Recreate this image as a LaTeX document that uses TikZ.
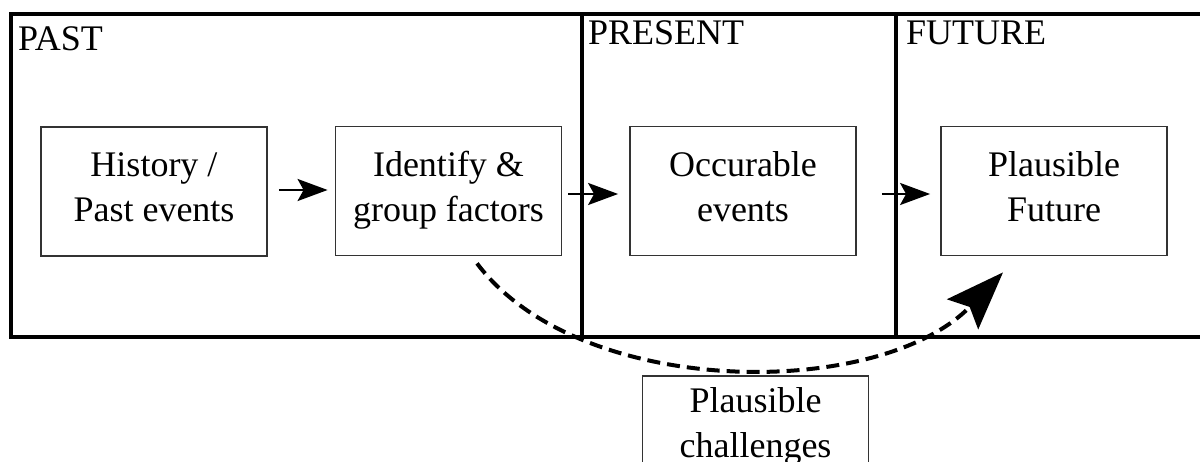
\documentclass[tikz,border=0pt]{standalone}
\usepackage{fontspec}
\setmainfont{Liberation Serif}
\usetikzlibrary{arrows.meta}
\begin{document}
\begin{tikzpicture}[x=1pt,y=-1pt,
  frame/.style={line width=3.5pt,black},
  stagebox/.style={draw=black!80, line width=1.8pt, minimum width=226pt, minimum height=129pt,
    align=center, text height=70pt, text depth=9pt, inner sep=0pt, font=\fontsize{36}{45}\selectfont},
  stagelabel/.style={anchor=base west, inner sep=0pt, font=\fontsize{36}{45}\selectfont},
  flowarrow/.style={line width=2.5pt, -{Stealth[length=30pt,width=22pt,inset=6pt]}},
  dasharrow/.style={line width=4pt, dash pattern=on 13pt off 7pt,
    -{Stealth[length=58pt,width=43pt,inset=10pt]}}
]
\useasboundingbox (0,0) rectangle (1200,462);
% frame
\draw[frame] (1210,14) -- (11,14) -- (11,337) -- (1210,337);
\draw[frame] (582,14) -- (582,337);
\draw[frame] (896,14) -- (896,337);
% stage labels
\node[stagelabel] (past) at (18,51) {PAST};
\node[stagelabel] (present) at (588,45) {PRESENT};
\node[stagelabel] (future) at (906,45) {FUTURE};
% boxes
\node[stagebox] (hist) at (154,191.5) {History /\\Past events};
\node[stagebox] (ident) at (448.5,191) {Identify \&\\group factors};
\node[stagebox] (occ) at (743,191) {Occurable\\events};
\node[stagebox] (fut) at (1054,191) {Plausible\\Future};
\node[stagebox, minimum height=101pt] (chal) at (755.5,426.5) {Plausible\\challenges};
% arrows
\draw[flowarrow] ([xshift=11pt,yshift=1.5pt]hist.east) -- ([xshift=-7pt,yshift=1pt]ident.west);
\draw[flowarrow] ([xshift=6pt,yshift=-3pt]ident.east) -- ([xshift=-11pt,yshift=-3pt]occ.west);
\draw[flowarrow] ([xshift=25pt,yshift=-3pt]occ.east) -- ([xshift=-10pt,yshift=-3pt]fut.west);
\coordinate (curvestart) at ([xshift=28.5pt,yshift=-7pt]ident.south);
\coordinate (curveend) at ([xshift=-51pt,yshift=-16pt]fut.south);
\draw[dasharrow] (curvestart) .. controls (580,400) and (880,400) .. (curveend);
\end{tikzpicture}
\end{document}
